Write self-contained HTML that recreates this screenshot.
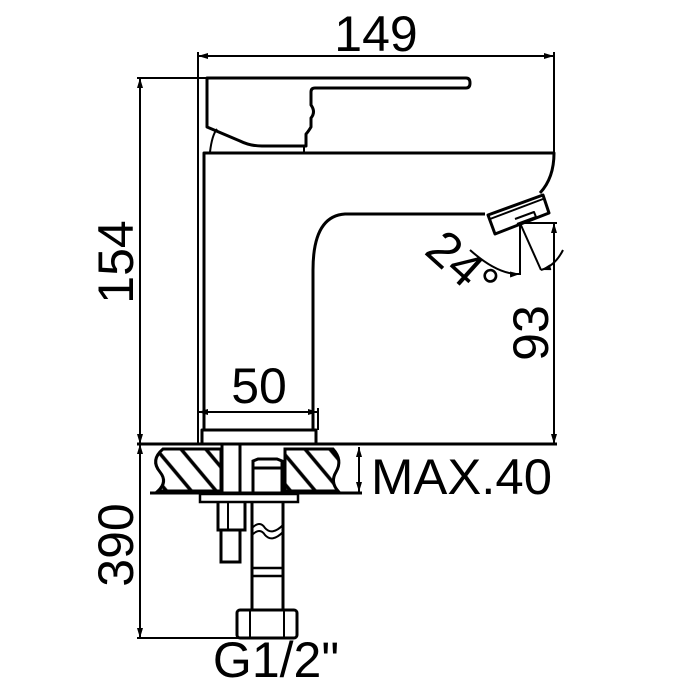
<!DOCTYPE html>
<html><head><style>html,body{margin:0;padding:0;background:#fff}svg{display:block}</style></head><body>
<svg width="700" height="700" viewBox="0 0 700 700" xmlns="http://www.w3.org/2000/svg">
<defs>
<pattern id="h" width="19" height="19" patternUnits="userSpaceOnUse" patternTransform="rotate(-40)">
<rect width="19" height="19" fill="#fff"/><line x1="2" y1="0" x2="2" y2="19" stroke="#000" stroke-width="3.5"/>
</pattern>
<marker id="a" viewBox="0 0 10 6" refX="10" refY="3" markerWidth="10" markerHeight="6" orient="auto-start-reverse" markerUnits="userSpaceOnUse"><path d="M0,0 L10,3 L0,6Z" fill="#000"/></marker>
</defs>
<g fill="none" stroke="#000" stroke-width="3" stroke-linejoin="round">
<line x1="198" y1="56" x2="554" y2="56" stroke-width="2" marker-start="url(#a)" marker-end="url(#a)"/>
<line x1="198" y1="52" x2="198" y2="444" stroke-width="2"/>
<line x1="554" y1="52" x2="554" y2="153" stroke-width="2"/>
<line x1="137" y1="78" x2="207" y2="78" stroke-width="2"/>
<line x1="140" y1="78" x2="140" y2="444" stroke-width="2" marker-start="url(#a)" marker-end="url(#a)"/>
<line x1="140" y1="444" x2="140" y2="638" stroke-width="2" marker-start="url(#a)" marker-end="url(#a)"/>
<line x1="137" y1="638" x2="240" y2="638" stroke-width="2"/>
<line x1="520" y1="223" x2="557" y2="223" stroke-width="2"/>
<line x1="554" y1="223" x2="554" y2="444" stroke-width="2" marker-start="url(#a)" marker-end="url(#a)"/>
<line x1="520" y1="223" x2="520" y2="275" stroke-width="2"/>
<line x1="520" y1="223" x2="541" y2="270" stroke-width="2"/>
<path d="M470,250 Q498,275 520,274" stroke-width="2" marker-end="url(#a)"/>
<path d="M563,250 Q555,266 541,270" stroke-width="2" marker-end="url(#a)"/>
<line x1="198" y1="412" x2="318" y2="412" stroke-width="2" marker-start="url(#a)" marker-end="url(#a)"/>
<line x1="318" y1="408" x2="318" y2="430" stroke-width="2"/>
<line x1="359" y1="447" x2="359" y2="492" stroke-width="2" marker-start="url(#a)" marker-end="url(#a)"/>
<path d="M207,78 L466,78 Q470,78 470,83 Q470,88 466,88 L315,88 Q311,88 311,92 L311,105 Q316,112 311,118 L311,127 Q308,132 306,134 L306,146 L262,146 Q250,146 240,141 L207,127 Z"/>
<path d="M210,152 Q212,135 217,129" stroke-width="2"/>
<line x1="304" y1="146" x2="304" y2="153" stroke-width="2"/>
<path d="M204,430 L204,153 L554,153 Q554,178 540,193"/>
<path d="M485,214 L345,214 Q313,216 313,270 L313,430"/>
<path d="M488,215 L543,195 L549,213 L495,234 Z"/>
<path d="M490,219 L543,199" stroke-width="2"/>
<path d="M515,219 L534,212 L536,217 L517,224" stroke-width="2"/>
<path d="M202,443 L202,430 L316,430 L316,443"/>
<line x1="137" y1="444" x2="557" y2="444"/>
<line x1="150" y1="493" x2="362" y2="493"/>
</g>
<path d="M163,449 L221,449 L221,491 L158,491 Q168,482 160,472 Q150,460 163,449 Z" fill="url(#h)" stroke="#000" stroke-width="3"/>
<path d="M285,449 L333,449 Q343,460 336,472 Q330,482 338,491 L285,491 Z" fill="url(#h)" stroke="#000" stroke-width="3"/>
<g fill="none" stroke="#000" stroke-width="3">
<line x1="222" y1="444" x2="222" y2="493"/><line x1="240" y1="444" x2="240" y2="493"/>
<rect x="200" y="494" width="98" height="8" stroke-width="2.5"/>
<path d="M218,502 L218,530 L245,530 L245,502"/>
<path d="M221,530 L221,562 L240,562 L240,530"/>
<line x1="228" y1="502" x2="228" y2="530" stroke-width="2"/>
<path d="M253,494 L253,461 L258,459 L277,459 L282,461 L282,494"/>
<line x1="253" y1="468" x2="282" y2="468"/>
<path d="M252,502 L252,610 M283,502 L283,610"/>
<path d="M252,528 Q260,520 265,528 Q272,536 283,525" stroke-width="2"/>
<path d="M252,535 Q260,527 265,535 Q272,543 283,532" stroke-width="2"/>
<rect x="252" y="568" width="31" height="8" stroke-width="2.5"/>
<rect x="237" y="610" width="60" height="28" rx="3"/>
<line x1="250" y1="610" x2="250" y2="638" stroke-width="2"/><line x1="284" y1="610" x2="284" y2="638" stroke-width="2"/>
</g>
<g font-family="Liberation Sans, sans-serif" font-size="50" fill="#000">
<text x="376" y="51" text-anchor="middle">149</text>
<text x="259" y="403" text-anchor="middle">50</text>
<text x="371" y="494" textLength="181" lengthAdjust="spacingAndGlyphs">MAX.40</text>
<text x="276" y="677" text-anchor="middle">G1/2"</text>
<text transform="translate(133,262) rotate(-90)" text-anchor="middle">154</text>
<text transform="translate(133,545) rotate(-90)" text-anchor="middle">390</text>
<text transform="translate(548,333) rotate(-90)" text-anchor="middle">93</text>
<text transform="translate(451,278) rotate(42)" text-anchor="middle">24°</text>
</g>
</svg>
</body></html>
